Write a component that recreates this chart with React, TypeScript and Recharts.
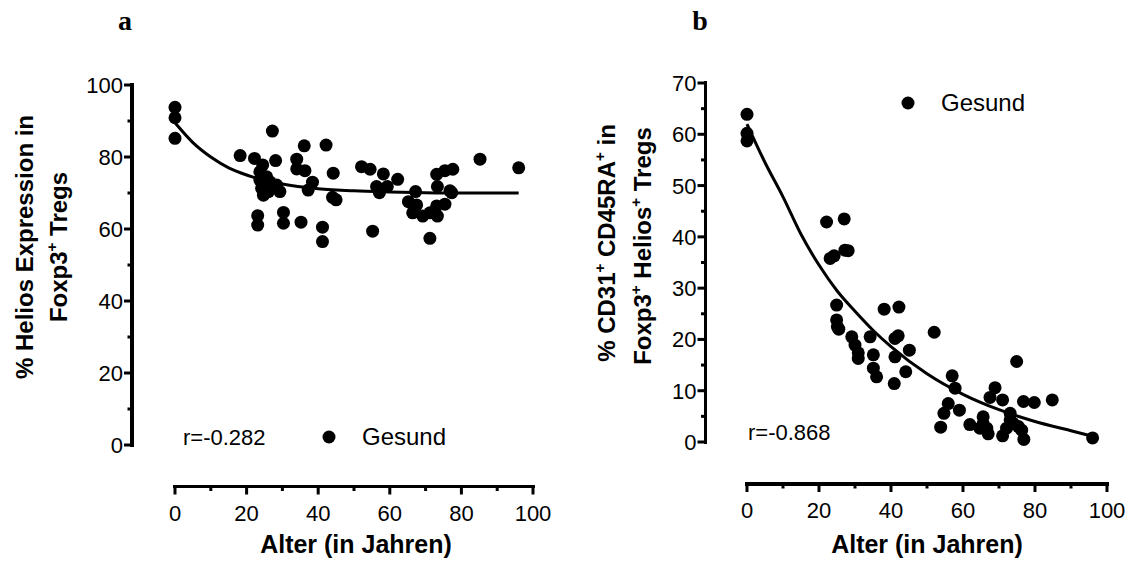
import { ComposedChart, Scatter, Line, XAxis, YAxis, Legend } from 'recharts';

// Panel a: Helios expression vs. age
const ageA = [0, 0, 0, 27.2, 18.2, 22.2, 28.1, 24.5, 36.1, 42.2, 34, 34, 36.3, 44.2, 23.7, 25.6, 23.7, 26.5, 28.4, 24.2, 29.3, 24.7, 26.1, 38.4, 37.2, 44, 45, 23.1, 23.1, 30.3, 30.3, 35.2, 41.2, 41.2, 52.1, 54.5, 58.2, 62.2, 56.3, 59.3, 57.1, 55.2, 85.2, 67.2, 65.2, 67.5, 66.4, 69.2, 71.2, 73.3, 73.1, 75.4, 71.2, 73.1, 75.4, 77.6, 73.3, 76.8, 77.3, 96];
const helios = [93.8, 90.9, 85.2, 87.2, 80.4, 79.6, 79, 77.8, 83.1, 83.3, 79.4, 76.7, 76.2, 75.5, 75.9, 74.5, 73.6, 73.1, 72.2, 71.3, 70.4, 69.4, 70.4, 73, 70.8, 68.8, 68.1, 63.7, 61.1, 64.6, 61.6, 61.9, 60.5, 56.5, 77.3, 76.6, 75.3, 73.8, 71.8, 71.8, 70.1, 59.4, 79.4, 70.4, 67.6, 66.7, 64.5, 63.6, 64.5, 63.6, 66.4, 66.9, 57.4, 75.2, 76.2, 76.6, 71.8, 70.6, 70.1, 77];
const fitAgeA = [0, 5, 10, 15, 20, 30, 40, 50, 60, 70, 80, 96];
const fitA = [89.5, 84, 80, 77, 75, 72.5, 71.2, 70.6, 70.3, 70.1, 70, 70];

// Panel b: CD31+ CD45RA+ in Foxp3+ Helios+ Tregs vs. age
const ageB = [0, 0, 0, 22.1, 27, 23.1, 24.2, 27.2, 28.1, 24.9, 24.9, 25.1, 25.5, 29.1, 30, 30.9, 30.9, 34.2, 35.1, 35.1, 36, 38.1, 42.2, 41.1, 42, 41.1, 45.1, 44.1, 40.9, 52, 57, 57.8, 55.9, 54.7, 59, 53.8, 61.9, 68.9, 67.5, 71, 74.9, 76.8, 79.8, 84.8, 65.6, 65.6, 64.7, 67, 66.6, 73.1, 73.1, 74, 75.4, 76.3, 76.9, 71, 72.1, 96];
const cd31 = [63.9, 60.2, 58.7, 42.9, 43.5, 35.8, 36.3, 37.4, 37.3, 26.7, 23.8, 22.5, 22, 20.5, 18.9, 17.4, 16.3, 20.5, 17, 14.4, 12.7, 25.9, 26.3, 20.2, 20.7, 16.6, 17.9, 13.7, 11.4, 21.4, 12.9, 10.5, 7.5, 5.6, 6.2, 2.9, 3.4, 10.6, 8.7, 8.2, 15.7, 7.9, 7.7, 8.2, 4.9, 3.6, 2.7, 1.6, 2.7, 5.6, 4.3, 3.6, 3, 2.3, 0.5, 1.2, 2.7, 0.8];
const fitAgeB = [0, 5, 10, 15, 20, 25, 30, 35, 40, 50, 60, 70, 80, 90, 96];
const fitB = [62, 54.5, 47.8, 40.5, 34.5, 29.5, 25.5, 21.8, 18.6, 13.3, 9.3, 6.3, 4, 2.2, 1.1];

const xTicks = [0, 10, 20, 30, 40, 50, 60, 70, 80, 90, 100];
const yTicksA = [0, 10, 20, 30, 40, 50, 60, 70, 80, 90, 100];
const yTicksB = [0, 5, 10, 15, 20, 25, 30, 35, 40, 45, 50, 55, 60, 65, 70];

const pts = (xs: number[], ys: number[]) => xs.map((x, i) => ({ x, y: ys[i] }));

const SANS = '"Liberation Sans", Arial, sans-serif';
const H = 561;
const Y_AXIS_W = 60;
const X_AXIS_H = 30;
const AXIS_T = 3.5;

// page layout of the two panels; axes sit apart from the plot area (Prism style)
const layoutA = { left: 0, width: 565, margin: { top: 85, right: 32, bottom: 86, left: 115 }, dx: -43, dy: 41.5 };
const layoutB = { left: 565, width: 564, margin: { top: 83, right: 22, bottom: 89, left: 122 }, dx: -41.5, dy: 42 };

type Layout = typeof layoutA;

const plotBox = (l: Layout) => ({
  x0: l.left + l.margin.left + Y_AXIS_W,
  x1: l.left + l.width - l.margin.right,
  y0: l.margin.top,
  y1: H - l.margin.bottom - X_AXIS_H,
});

const Dot = (props: any) => <circle cx={props.cx} cy={props.cy} r={6.5} fill="#000" />;

const makeXTick = (shift: number) => (props: any) => {
  const { x, payload } = props;
  const y = props.y + shift;
  const major = payload.value % 20 === 0;
  return (
    <g>
      <rect x={x - 1.5} y={y} width={3} height={major ? 8 : 4.5} fill="#000" />
      {major && (
        <text x={x} y={y + 34} textAnchor="middle" fontSize={22} fontFamily={SANS} fill="#000">
          {payload.value}
        </text>
      )}
    </g>
  );
};

const makeYTick = (step: number, shift: number) => (props: any) => {
  const { y, payload } = props;
  const x = props.x + shift;
  const major = payload.value % step === 0;
  const len = major ? 8 : 4.5;
  return (
    <g>
      <rect x={x - len} y={y - 1.5} width={len} height={3} fill="#000" />
      {major && (
        <text x={x - 9} y={y + 8} textAnchor="end" fontSize={22} fontFamily={SANS} fill="#000">
          {payload.value}
        </text>
      )}
    </g>
  );
};

const LegendBox = () => (
  <div style={{ display: 'flex', alignItems: 'center', fontFamily: SANS, fontSize: 24, lineHeight: '28px' }}>
    <svg width={14} height={14} style={{ marginRight: 26 }}>
      <circle cx={7} cy={7} r={6.5} fill="#000" />
    </svg>
    <span>Gesund</span>
  </div>
);

function Panel(props: {
  layout: Layout;
  data: { x: number; y: number }[];
  fit: { x: number; y: number }[];
  yMax: number;
  yTicks: number[];
  yStep: number;
  legendPos: { left: number; top: number };
}) {
  const l = props.layout;
  return (
    <div style={{ position: 'absolute', left: l.left, top: 0 }}>
      <ComposedChart width={l.width} height={H} margin={l.margin}>
        <XAxis
          type="number"
          dataKey="x"
          domain={[0, 100]}
          ticks={xTicks}
          interval={0}
          height={X_AXIS_H}
          tickSize={0}
          tickMargin={0}
          tickLine={false}
          axisLine={false}
          tick={makeXTick(l.dy)}
        />
        <YAxis
          type="number"
          dataKey="y"
          domain={[0, props.yMax]}
          ticks={props.yTicks}
          interval={0}
          width={Y_AXIS_W}
          tickSize={0}
          tickMargin={0}
          tickLine={false}
          axisLine={false}
          tick={makeYTick(props.yStep, l.dx)}
        />
        <Legend
          layout="horizontal"
          align="center"
          verticalAlign="middle"
          content={<LegendBox />}
          wrapperStyle={{ left: props.legendPos.left, top: props.legendPos.top, width: 'auto' }}
        />
        <Line
          data={props.fit}
          dataKey="y"
          type="monotone"
          stroke="#000"
          strokeWidth={3}
          dot={false}
          legendType="none"
          isAnimationActive={false}
        />
        <Scatter name="Gesund" data={props.data} fill="#000" shape={Dot} isAnimationActive={false} />
      </ComposedChart>
    </div>
  );
}

// axis lines, offset from the plot box like the ticks
const AxisLines = ({ l }: { l: Layout }) => {
  const b = plotBox(l);
  const ax = b.x0 + l.dx;
  const ay = b.y1 + l.dy;
  const t = AXIS_T;
  return (
    <>
      <div style={{ position: 'absolute', left: b.x0 - t / 2, top: ay - t / 2, width: b.x1 - b.x0 + t, height: t, background: '#000' }} />
      <div style={{ position: 'absolute', left: ax - t / 2, top: b.y0 - t / 2, width: t, height: b.y1 - b.y0 + t, background: '#000' }} />
    </>
  );
};

export default function App() {
  return (
    <div style={{ position: 'absolute', left: 0, top: 0, width: 1129, height: H, background: '#fff', overflow: 'hidden' }}>
      <Panel
        layout={layoutA}
        data={pts(ageA, helios)}
        fit={pts(fitAgeA, fitA)}
        yMax={100}
        yTicks={yTicksA}
        yStep={20}
        legendPos={{ left: 322, top: 423 }}
      />
      <Panel
        layout={layoutB}
        data={pts(ageB, cd31)}
        fit={pts(fitAgeB, fitB)}
        yMax={70}
        yTicks={yTicksB}
        yStep={10}
        legendPos={{ left: 336, top: 89 }}
      />
      <AxisLines l={layoutA} />
      <AxisLines l={layoutB} />
      <svg width={1129} height={H} style={{ position: 'absolute', left: 0, top: 0, pointerEvents: 'none' }}>
        <g fontFamily='"Liberation Serif", "Times New Roman", serif' fontWeight="bold" fontSize={28} fill="#000">
          <text x={125} y={30} textAnchor="middle">a</text>
          <text x={700} y={30} textAnchor="middle">b</text>
        </g>
        <g fontFamily={SANS} fontWeight="bold" fontSize={24} fill="#000">
          <text x={356} y={553} fontSize={25} textAnchor="middle">Alter (in Jahren)</text>
          <text x={927} y={553} fontSize={25} textAnchor="middle">Alter (in Jahren)</text>
          <text transform="translate(33,247) rotate(-90)" textAnchor="middle">% Helios Expression in</text>
          <text transform="translate(67,247) rotate(-90)" textAnchor="middle">
            Foxp3<tspan fontSize={15} dy={-10}>+</tspan>
            <tspan dy={10}> Tregs</tspan>
          </text>
          <text transform="translate(615,243) rotate(-90)" textAnchor="middle">
            % CD31<tspan fontSize={15} dy={-10}>+</tspan>
            <tspan dy={10}> CD45RA</tspan>
            <tspan fontSize={15} dy={-10}>+</tspan>
            <tspan dy={10}> in</tspan>
          </text>
          <text transform="translate(651,246) rotate(-90)" textAnchor="middle">
            Foxp3<tspan fontSize={15} dy={-10}>+</tspan>
            <tspan dy={10}> Helios</tspan>
            <tspan fontSize={15} dy={-10}>+</tspan>
            <tspan dy={10}> Tregs</tspan>
          </text>
        </g>
        <g fontFamily={SANS} fontSize={22} fill="#000">
          <text x={183} y={445}>r=-0.282</text>
          <text x={748} y={440}>r=-0.868</text>
        </g>
      </svg>
    </div>
  );
}
